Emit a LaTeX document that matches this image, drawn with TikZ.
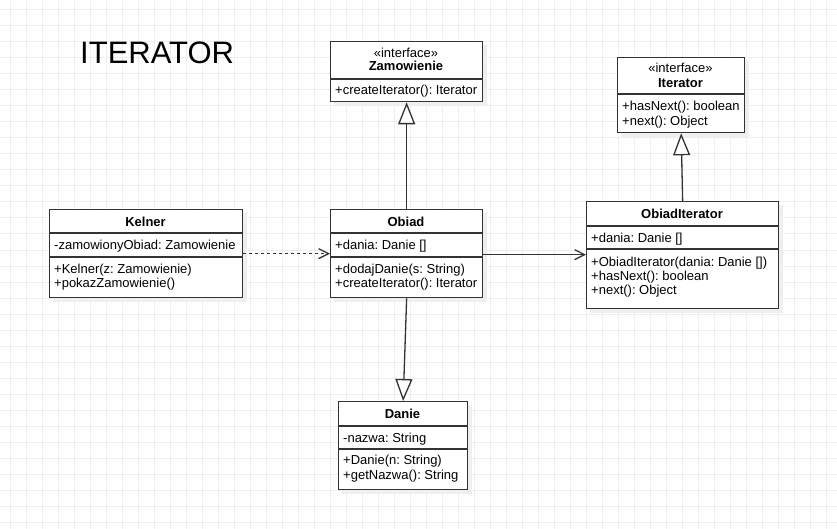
\documentclass[tikz,border=0pt]{standalone}
\usepackage{fontspec}
\setmainfont{Liberation Sans}
\usetikzlibrary{arrows.meta}
\definecolor{gridc}{HTML}{EEEEEE}
\definecolor{linec}{HTML}{333333}
\definecolor{shadowc}{HTML}{EFEFEF}
\tikzset{
  every node/.style={font=\fontsize{13}{15}\selectfont, text=black},
  umlbox/.style={draw=linec, line width=1.3pt, fill=white, inner sep=0pt, anchor=north west},
  sepline/.style={draw=linec, line width=1.3pt},
  row/.style={anchor=west, inner sep=0pt, text height=11pt, text depth=1pt},
  ttl/.style={anchor=center, inner sep=0pt, text height=11pt, text depth=1pt, font=\fontsize{13}{15}\selectfont\bfseries},
  stereo/.style={anchor=center, inner sep=0pt, text height=11pt, text depth=1pt},
  conn/.style={draw=linec, line width=1.3pt},
  openarrow/.style={conn, -{Straight Barb[length=10pt,width=10pt,line width=1.3pt]}},
  depend/.style={openarrow, dash pattern=on 3pt off 3pt},
  inherit/.style={conn, -{Triangle[open,fill=white,length=22pt,width=17pt,line width=1.3pt]}},
}
\begin{document}
\frenchspacing
\begin{tikzpicture}[x=1pt,y=-1pt]
\useasboundingbox (0,0) rectangle (837,529);
\fill[white] (0,0) rectangle (837,529);
% grid
\foreach \i in {0,...,51} { \draw[gridc, line width=1pt] ({10+16*\i},0) -- ({10+16*\i},529); }
\foreach \j in {0,...,32} { \draw[gridc, line width=1pt] (0,{10+16*\j}) -- (837,{10+16*\j}); }

% title
\node[anchor=west, inner sep=0pt, font=\fontsize{31}{35}\selectfont] (title) at (80,53) {ITERATOR};

% shadows
\fill[shadowc] (334,45) rectangle (487,106);
\fill[shadowc] (621,61) rectangle (749,137);
\fill[shadowc] (53,213) rectangle (247,302);
\fill[shadowc] (334,213) rectangle (487,302);
\fill[shadowc] (590,205) rectangle (783,313);
\fill[shadowc] (342,405) rectangle (472,494);

% Zamowienie
\node[umlbox, minimum width=152pt, minimum height=60pt] (zam) at (330,41) {};
\draw[sepline] (330,79) -- (482,79);
\node[stereo] (zamst) at (406,53) {«interface»};
\node[ttl] (zamt) at (406,66) {Zamowienie};
\node[row] (zamm) at (335,90) {+createIterator(): Iterator};

% Iterator
\node[umlbox, minimum width=127pt, minimum height=75pt] (iter) at (617,57) {};
\draw[sepline] (617,94) -- (744,94);
\node[stereo] (iterst) at (680.5,68) {«interface»};
\node[ttl] (itert) at (680.5,83) {Iterator};
\node[row] (iterm1) at (622,106) {+hasNext(): boolean};
\node[row] (iterm2) at (622,120.5) {+next(): Object};

% Kelner
\node[umlbox, minimum width=193pt, minimum height=88pt] (kel) at (49,209) {};
\draw[sepline] (49,233) -- (242,233);
\draw[sepline] (49,257) -- (242,257);
\node[ttl] (kelt) at (145.5,222) {Kelner};
\node[row] (kela) at (54,245) {-zamowionyObiad: Zamowienie};
\node[row] (kelm1) at (54,268) {+Kelner(z: Zamowienie)};
\node[row] (kelm2) at (54,282) {+pokazZamowienie()};

% Obiad
\node[umlbox, minimum width=152pt, minimum height=88pt] (obiad) at (330,209) {};
\draw[sepline] (330,233) -- (482,233);
\draw[sepline] (330,257) -- (482,257);
\node[ttl] (obiadt) at (406,222) {Obiad};
\node[row] (obiada) at (335,245) {+dania: Danie []};
\node[row] (obiadm1) at (335,268) {+dodajDanie(s: String)};
\node[row] (obiadm2) at (335,282) {+createIterator(): Iterator};

% ObiadIterator
\node[umlbox, minimum width=192pt, minimum height=107pt] (oit) at (586,201) {};
\draw[sepline] (586,226) -- (778,226);
\draw[sepline] (586,249) -- (778,249);
\node[ttl] (oitt) at (682,214) {ObiadIterator};
\node[row] (oita) at (591,238) {+dania: Danie []};
\node[row] (oitm1) at (591,261) {+ObiadIterator(dania: Danie [])};
\node[row] (oitm2) at (591,275) {+hasNext(): boolean};
\node[row] (oitm3) at (591,289) {+next(): Object};

% Danie
\node[umlbox, minimum width=129pt, minimum height=88pt] (danie) at (338,401) {};
\draw[sepline] (338,426) -- (467,426);
\draw[sepline] (338,449) -- (467,449);
\node[ttl] (daniet) at (402.5,413.5) {Danie};
\node[row] (daniea) at (343,437.5) {-nazwa: String};
\node[row] (daniem1) at (343,459) {+Danie(n: String)};
\node[row] (daniem2) at (343,474) {+getNazwa(): String};

% connectors
\draw[depend] (kel.east) -- (obiad.west);
\draw[openarrow] ([yshift=-1pt]obiad.east) -- ([yshift=-1pt]obiad.east -| oit.west);
\draw[inherit] (obiad.north) -- (zam.south);
\draw[inherit] (oit.north) -- (iter.south);
\draw[inherit] (obiad.south) -- (danie.north);
\end{tikzpicture}
\end{document}
